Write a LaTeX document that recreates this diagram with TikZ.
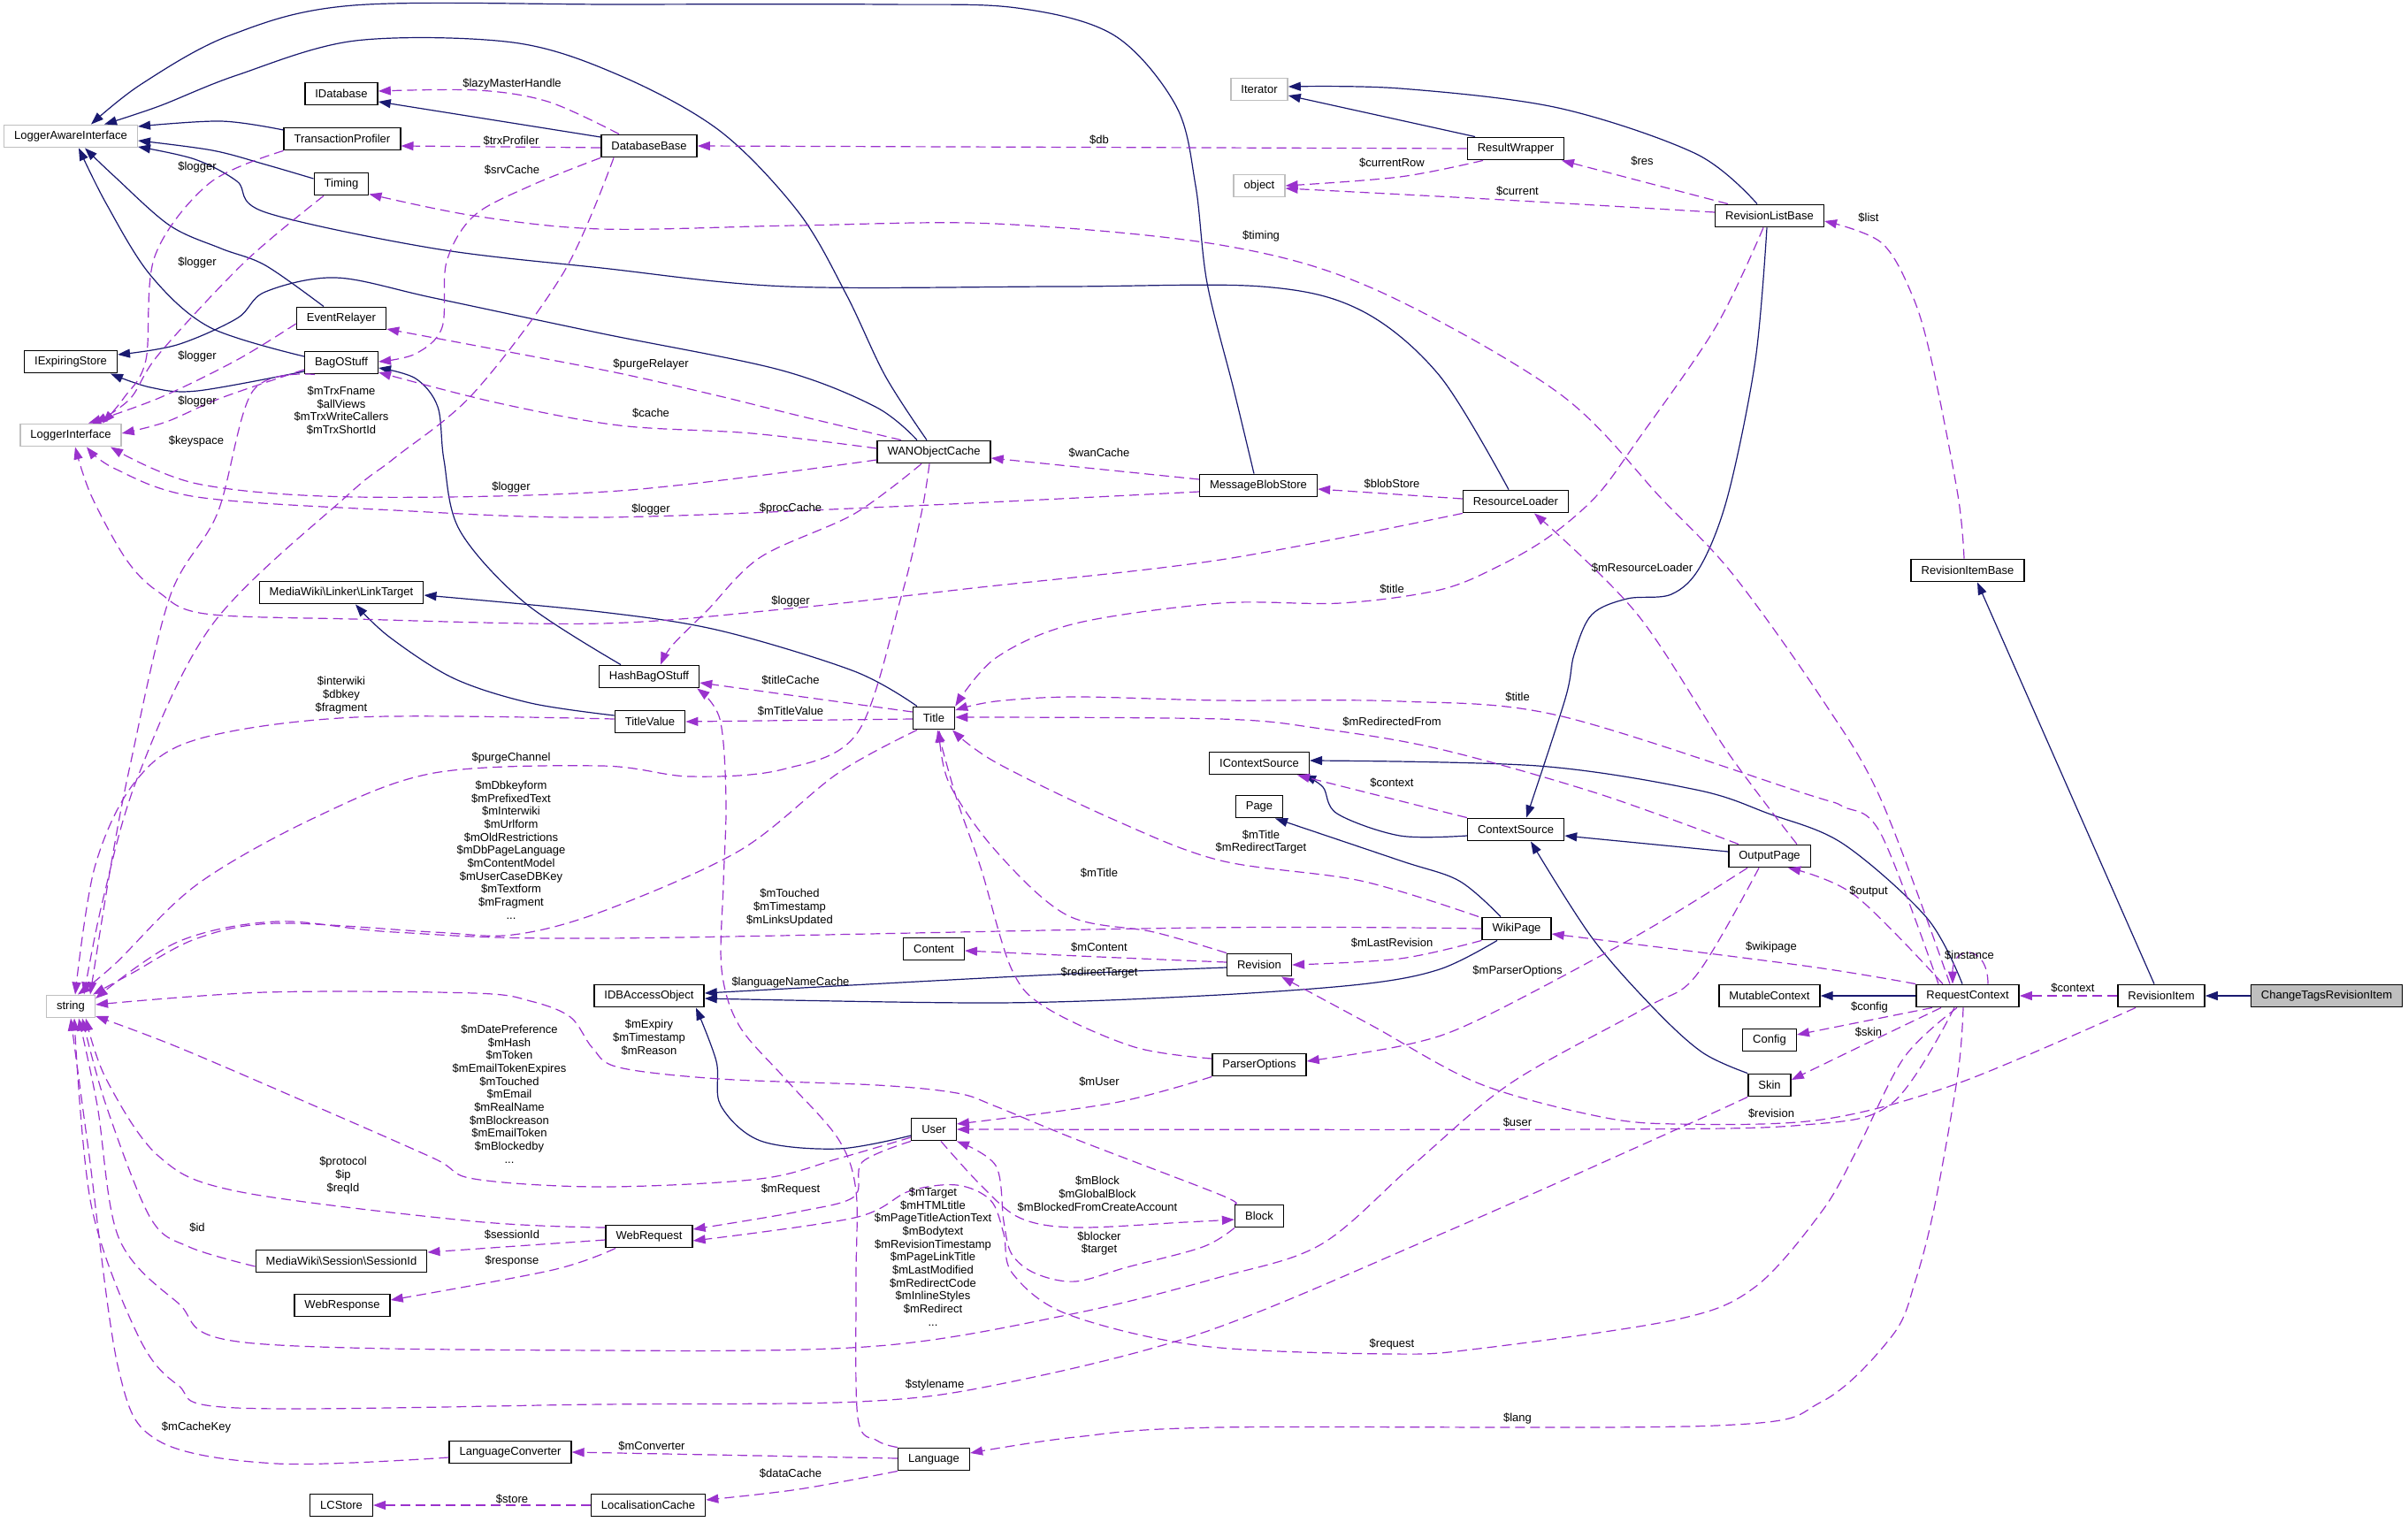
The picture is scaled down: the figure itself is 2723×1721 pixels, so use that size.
\documentclass[tikz,border=0pt]{standalone}
\usepackage{fontspec}
\setmainfont{Liberation Sans}
\usetikzlibrary{arrows.meta}
\definecolor{inhcol}{RGB}{25,25,112}
\definecolor{usecol}{RGB}{154,50,205}
\definecolor{extcol}{RGB}{191,191,191}
\begin{document}
\begin{tikzpicture}[x=1pt,y=-1pt,
 every node/.style={font=\fontsize{13}{14.7}\selectfont},
 cls/.style={draw=black, line width=1.4pt, fill=white, minimum height=25.5pt, inner xsep=11.5pt, inner ysep=0pt, anchor=center},
 ext/.style={cls, draw=extcol},
 cur/.style={cls, fill=extcol},
 inhedge/.style={draw=inhcol, line width=1.2pt, -{Triangle[length=14pt,width=10pt]}},
 usedge/.style={draw=usecol, line width=1.2pt, dash pattern=on 11pt off 6pt, -{Triangle[length=14pt,width=10pt]}},
 lbl/.style={align=center, inner sep=0pt},
 sm/.style={smooth, tension=0.55}
]
\useasboundingbox (0,0) rectangle (2723,1721);
\fill[white] (0,0) rectangle (2723,1721);
% ---------------- nodes ----------------
\node[ext] (LAI) at (80,154) {LoggerAwareInterface};
\node[cls] (IDatabase) at (386,106) {IDatabase};
\node[cls] (TP) at (387,157) {TransactionProfiler};
\node[cls] (Timing) at (386,208) {Timing};
\node[cls] (DB) at (734,165) {DatabaseBase};
\node[ext] (Iterator) at (1424,101) {Iterator};
\node[cls] (RW) at (1714,168) {ResultWrapper};
\node[ext] (object) at (1424,210) {object};
\node[cls] (RLB) at (2001,244) {RevisionListBase};
\node[cls] (ER) at (386,360) {EventRelayer};
\node[cls] (IES) at (80,409) {IExpiringStore};
\node[cls] (BOS) at (386,410) {BagOStuff};
\node[ext] (LI) at (80,492) {LoggerInterface};
\node[cls] (WAN) at (1056,511) {WANObjectCache};
\node[cls] (MBS) at (1423,549) {MessageBlobStore};
\node[cls] (RL) at (1714,567) {ResourceLoader};
\node[cls] (RIB) at (2225,645) {RevisionItemBase};
\node[cls] (LT) at (386,670) {MediaWiki\textbackslash Linker\textbackslash LinkTarget};
\node[cls] (HBOS) at (734,765) {HashBagOStuff};
\node[cls] (TV) at (735,816) {TitleValue};
\node[cls] (Title) at (1056,812) {Title};
\node[cls] (ICS) at (1424,863) {IContextSource};
\node[cls] (Page) at (1424,912) {Page};
\node[cls] (CS) at (1714,938) {ContextSource};
\node[cls] (OP) at (2001,968) {OutputPage};
\node[cls] (WP) at (1715,1050) {WikiPage};
\node[ext] (string) at (80,1138) {string};
\node[cls] (Content) at (1056,1073) {Content};
\node[cls] (Revision) at (1424,1091) {Revision};
\node[cls] (IDBAO) at (734,1126) {IDBAccessObject};
\node[cls] (MC) at (2001,1126) {MutableContext};
\node[cls] (RC) at (2225,1126) {RequestContext};
\node[cls] (RI) at (2444,1126) {RevisionItem};
\node[cur] (CTRI) at (2631,1126) {ChangeTagsRevisionItem};
\node[cls] (Config) at (2001,1176) {Config};
\node[cls] (PO) at (1424,1204) {ParserOptions};
\node[cls] (Skin) at (2001,1227) {Skin};
\node[cls] (User) at (1056,1277) {User};
\node[cls] (Block) at (1424,1375) {Block};
\node[cls] (WR) at (734,1398) {WebRequest};
\node[cls] (SID) at (386,1426) {MediaWiki\textbackslash Session\textbackslash SessionId};
\node[cls] (WResp) at (387,1476) {WebResponse};
\node[cls] (LC) at (577,1642) {LanguageConverter};
\node[cls] (Language) at (1056,1650) {Language};
\node[cls] (LCStore) at (386,1702) {LCStore};
\node[cls] (LocC) at (733,1702) {LocalisationCache};
% ---------------- inheritance ----------------
\draw[inhedge] plot[sm] coordinates {([shift={(-5,0)}]MBS.north) (1395,440) (1365,320) (1352,210) (1330,120) (1260,40) (1150,9) (1000,5) (700,5) (400,6) (260,40) (160,95) ([shift={(23,0)}]LAI.north)};
\draw[inhedge] plot[sm] coordinates {([shift={(-8,0)}]WAN.north) (1001,425) (957,333) (903,240) (814,148) (700,85) (580,48) (402,46) (268,85) (180,120) ([shift={(38,0)}]LAI.north)};
\draw[inhedge] plot[sm] coordinates {([shift={(0,-10)}]TP.west) (250,137) ([shift={(0,-11)}]LAI.east)};
\draw[inhedge] plot[sm] coordinates {([shift={(0,-6)}]Timing.west) (300,186) (240,170) ([shift={(0,5)}]LAI.east)};
\draw[inhedge] plot[sm] coordinates {([shift={(-8,0)}]RL.north) (1628,425) (1539,351) (1427,324) (1200,324) (890,324) (680,303) (491,281) (300,240) (268,205) (220,180) ([shift={(0,12)}]LAI.east)};
\draw[inhedge] plot[sm] coordinates {([shift={(-20,0)}]ER.north) (300,300) (250,281) (192,255) (130,200) ([shift={(16,0)}]LAI.south)};
\draw[inhedge] plot[sm] coordinates {([shift={(0,-7)}]BOS.west) (237,370) (170,311) (120,230) ([shift={(9,0)}]LAI.south)};
\draw[inhedge] plot[sm] coordinates {([shift={(0,10)}]BOS.west) (223,442) (170,438) ([shift={(45,0)}]IES.south)};
\draw[inhedge] plot[sm] coordinates {([shift={(-19,0)}]WAN.north) (990,460) (881,418) (680,377) (491,337) (380,314) (300,330) (268,360) (200,390) ([shift={(0,-8)}]IES.east)};
\draw[inhedge] ([shift={(0,-10)}]DB.west) -- ([shift={(0,9)}]IDatabase.east);
\draw[inhedge] plot[sm] coordinates {([shift={(-32,0)}]HBOS.north) (594,682) (520,600) (502,520) (495,460) (470,428) ([shift={(0,6)}]BOS.east)};
\draw[inhedge] ([shift={(-46,0)}]RW.north) -- ([shift={(0,7)}]Iterator.east);
\draw[inhedge] plot[sm] coordinates {([shift={(-14,0)}]RLB.north) (1918,174) (1762,122) (1583,100) ([shift={(0,-3)}]Iterator.east)};
\draw[inhedge] plot[sm] coordinates {([shift={(-3,0)}]RLB.south) (1985,407) (1954,560) (1923,640) (1890,672) (1840,677) (1800,695) (1780,740) (1770,790) ([shift={(12,0)}]CS.north)};
\draw[inhedge] plot[sm] coordinates {([shift={(0,-7)}]TV.west) (600,795) (513,767) (440,720) ([shift={(16,0)}]LT.south)};
\draw[inhedge] plot[sm] coordinates {([shift={(-19,0)}]Title.north) (966,759) (814,713) (680,692) ([shift={(0,3)}]LT.east)};
\draw[inhedge] plot[sm] coordinates {([shift={(0,7)}]CS.west) (1583,945) (1512,920) (1496,890) ([shift={(50,0)}]ICS.south)};
\draw[inhedge] ([shift={(0,-5)}]OP.west) -- ([shift={(0,7)}]CS.east);
\draw[inhedge] plot[sm] coordinates {([shift={(-18,0)}]WP.north) (1650,996) (1583,973) ([shift={(18,0)}]Page.south)};
\draw[inhedge] plot[sm] coordinates {([shift={(-22,0)}]WP.south) (1628,1096) (1539,1113) (1360,1126) (1126,1134) ([shift={(0,3)}]IDBAO.east)};
\draw[inhedge] plot[sm] coordinates {([shift={(0,3)}]Revision.west) (1171,1103) ([shift={(0,-3)}]IDBAO.east)};
\draw[inhedge] plot[sm] coordinates {([shift={(0,7)}]User.west) (948,1299) (860,1290) (815,1250) (810,1200) ([shift={(53,0)}]IDBAO.south)};
\draw[inhedge] plot[sm] coordinates {([shift={(-6,0)}]RC.north) (2179,1038) (2084,954) (2000,920) (1918,893) (1739,866) ([shift={(0,-3)}]ICS.east)};
\draw[inhedge] (RC.west) -- (MC.east);
\draw[inhedge] plot[sm] coordinates {(Skin.north west) (1925,1190) (1870,1140) (1800,1060) ([shift={(17,0)}]CS.south)};
\draw[inhedge] ([shift={(-8,0)}]RI.north) -- ([shift={(11,0)}]RIB.south);
\draw[inhedge] (CTRI.west) -- (RI.east);
% ---------------- usage ----------------
\draw[usedge] plot[sm] coordinates {([shift={(-34,0)}]DB.north) (620,115) (540,102) ([shift={(0,-3)}]IDatabase.east)};
\draw[usedge] ([shift={(0,2)}]DB.west) -- ([shift={(0,8)}]TP.east);
\draw[usedge] plot[sm] coordinates {(DB.south west) (600,210) (536,244) (505,296) (500,370) (470,400) ([shift={(0,-1)}]BOS.east)};
\draw[usedge] plot[sm] coordinates {([shift={(-40,0)}]DB.south) (638,307) (536,444) (446,518) (393,560) (241,705) (156,878) (116,1019) ([shift={(15,0)}]string.north)};
\draw[usedge] plot[sm] coordinates {(TP.south west) (237,207) (175,290) (165,407) (140,450) ([shift={(36,0)}]LI.north)};
\draw[usedge] plot[sm] coordinates {([shift={(-20,0)}]Timing.south) (277,296) (180,400) (147,451) ([shift={(27,0)}]LI.north)};
\draw[usedge] plot[sm] coordinates {([shift={(0,6)}]ER.west) (268,407) (180,450) ([shift={(20,0)}]LI.north)};
\draw[usedge] plot[sm] coordinates {([shift={(0,8)}]BOS.west) (250,450) (188,477) ([shift={(0,-2)}]LI.east)};
\draw[usedge] plot[sm] coordinates {([shift={(-30,0)}]BOS.south) (286,442) (246,580) (192,675) (147,866) (125,981) ([shift={(22,0)}]string.north)};
\draw[usedge] plot[sm] coordinates {([shift={(0,9)}]WAN.west) (700,555) (402,562) (223,547) ([shift={(45,0)}]LI.south)};
\draw[usedge] plot[sm] coordinates {([shift={(0,7)}]MBS.west) (1030,572) (680,585) (446,577) (223,562) (130,530) ([shift={(18,0)}]LI.south)};
\draw[usedge] plot[sm] coordinates {(RL.south west) (1380,633) (1100,665) (894,688) (680,705) (400,700) (232,694) (180,670) (143,633) (103,560) ([shift={(5,0)}]LI.south)};
\draw[usedge] plot[sm] coordinates {([shift={(-37,0)}]WAN.north) (903,470) (814,448) (700,422) (560,395) ([shift={(0,12)}]ER.east)};
\draw[usedge] plot[sm] coordinates {([shift={(0,-4)}]WAN.west) (850,490) (700,481) (560,455) ([shift={(0,11)}]BOS.east)};
\draw[usedge] plot[sm] coordinates {([shift={(-14,0)}]WAN.south) (966,581) (860,630) (800,690) (760,730) ([shift={(13,0)}]HBOS.north)};
\draw[usedge] plot[sm] coordinates {([shift={(-5,0)}]WAN.south) (1042,580) (1019,675) (970,828) (885,870) (780,878) (680,866) (491,874) (357,924) (223,1000) (130,1090) ([shift={(8,0)}]string.north)};
\draw[usedge] ([shift={(0,-7)}]MBS.west) -- ([shift={(0,7)}]WAN.east);
\draw[usedge] ([shift={(0,-3)}]RL.west) -- ([shift={(0,4)}]MBS.east);
\draw[usedge] (RW.west) -- (DB.east);
\draw[usedge] plot[sm] coordinates {([shift={(-37,0)}]RW.south) (1583,200) (object.east)};
\draw[usedge] ([shift={(-47,0)}]RLB.north) -- ([shift={(52,0)}]RW.south);
\draw[usedge] plot[sm] coordinates {([shift={(0,-4)}]RLB.west) (1700,226) ([shift={(0,3)}]object.east)};
\draw[usedge] plot[sm] coordinates {([shift={(-7,0)}]RLB.south) (1940,370) (1851,499) (1806,560) (1753,606) (1695,640) (1628,667) (1516,682) (1380,682) (1216,705) (1126,744) (Title.north east)};
\draw[usedge] plot[sm] coordinates {([shift={(-20,0)}]RC.north) (2127,904) (2060,790) (1960,650) (1880,565) (1762,444) (1552,326) (1380,277) (1126,253) (900,255) (680,259) (536,244) ([shift={(0,-2)}]Timing.south east)};
\draw[usedge] plot[sm] coordinates {([shift={(-4,0)}]RIB.north) (2214,560) (2184,407) (2162,333) (2127,274) ([shift={(0,6)}]RLB.east)};
\draw[usedge] plot[sm] coordinates {([shift={(0,-3)}]TV.west) (402,811) (223,836) (152,885) (107,981) ([shift={(5,0)}]string.north)};
\draw[usedge] ([shift={(0,-7)}]Title.west) -- ([shift={(0,7)}]HBOS.east);
\draw[usedge] ([shift={(0,1)}]Title.west) -- (TV.east);
\draw[usedge] plot[sm] coordinates {([shift={(-19,0)}]Title.south) (948,874) (836,962) (680,1031) (580,1057) (491,1054) (313,1044) (223,1061) (150,1100) ([shift={(-3,0)}]string.north east)};
\draw[usedge] plot[sm] coordinates {([shift={(-33,0)}]RC.north) (2127,943) (2084,912) (2040,897) (1762,809) (1583,793) (1380,792) (1216,788) (1126,793) ([shift={(0,-9)}]Title.east)};
\draw[usedge] plot[sm] coordinates {([shift={(-35,0)}]OP.north) (1806,897) (1628,847) (1494,824) (1380,813) ([shift={(0,-1)}]Title.east)};
\draw[usedge] plot[sm] coordinates {([shift={(-43,0)}]WP.north) (1539,996) (1380,973) (1260,927) (1126,862) ([shift={(21,0)}]Title.south)};
\draw[usedge] plot[sm] coordinates {(Revision.north west) (1305,1054) (1207,1035) (1126,962) (1073,885) ([shift={(6,0)}]Title.south)};
\draw[usedge] plot[sm] coordinates {([shift={(0,-7)}]PO.west) (1283,1184) (1184,1140) (1144,1096) (1109,981) (1082,904) ([shift={(4,0)}]Title.south)};
\draw[usedge] plot[sm] coordinates {([shift={(31,0)}]OP.north) (1954,851) (1851,694) ([shift={(21,0)}]RL.south)};
\draw[usedge] (CS.north west) -- ([shift={(43,0)}]ICS.south);
\draw[usedge] plot[sm] coordinates {(WP.west) (1360,1049) (680,1061) (446,1054) (313,1042) (201,1065) ([shift={(0,-9)}]string.east)};
\draw[usedge] plot[sm] coordinates {([shift={(0,-3)}]Revision.west) (1243,1082) ([shift={(0,2)}]Content.east)};
\draw[usedge] plot[sm] coordinates {(WP.south west) (1583,1084) (Revision.east)};
\draw[usedge] plot[sm] coordinates {(RC.north west) (2040,1092) ([shift={(0,6)}]WP.east)};
\draw[usedge] plot[sm] coordinates {([shift={(-28,0)}]RC.north) (2097,1012) ([shift={(21,0)}]OP.south)};
\draw[usedge] plot[sm] coordinates {([shift={(-25,0)}]OP.south) (1851,1058) (1672,1153) (1592,1181) ([shift={(0,-4)}]PO.east)};
\draw[usedge] ([shift={(23,0)}]RC.north) .. controls +(0,-45) and +(0,-45) .. ([shift={(-17,0)}]RC.north);
\draw[usedge] (RI.west) -- (RC.east);
\draw[usedge] ([shift={(-40,0)}]RC.south) -- ([shift={(0,-6)}]Config.east);
\draw[usedge] plot[sm] coordinates {([shift={(-30,0)}]RC.south) (2100,1185) ([shift={(0,-6)}]Skin.east)};
\draw[usedge] plot[sm] coordinates {([shift={(-29,0)}]RI.south) (2214,1225) (2060,1266) (1896,1271) (1806,1262) (1672,1225) (1552,1160) ([shift={(25,0)}]Revision.south)};
\draw[usedge] plot[sm] coordinates {([shift={(-15,0)}]RC.south) (2140,1247) (2040,1272) (1800,1277) (User.east)};
\draw[usedge] plot[sm] coordinates {(PO.south west) (1260,1247) ([shift={(0,-6)}]User.east)};
\draw[usedge] plot[sm] coordinates {([shift={(-12,0)}]OP.south) (1918,1103) (1860,1140) (1708,1225) (1597,1318) (1494,1407) (1380,1444) (1216,1485) (992,1522) (680,1527) (277,1518) (201,1473) (134,1399) (110,1250) ([shift={(9,0)}]string.south)};
\draw[usedge] plot[sm] coordinates {(Skin.south west) (1896,1277) (1628,1396) (1360,1507) (1126,1566) (970,1585) (680,1588) (268,1592) (201,1566) (156,1510) (103,1362) ([shift={(4,0)}]string.south)};
\draw[usedge] plot[sm] coordinates {([shift={(-12,0)}]RC.south) (2153,1196) (2100,1300) (2060,1370) (1985,1455) (1896,1492) (1672,1525) (1574,1531) (1360,1522) (1207,1486) (1145,1440) (1135,1395) (1120,1357) (1082,1340) (1028,1347) (966,1377) ([shift={(0,5)}]WR.east)};
\draw[usedge] plot[sm] coordinates {(Block.south west) (1360,1410) (1274,1433) (1216,1449) (1171,1440) (1144,1418) (1135,1381) (1126,1318) (User.south east)};
\draw[usedge] plot[sm] coordinates {([shift={(8,0)}]User.south) (1109,1340) (1153,1377) (1216,1388) (1340,1382) ([shift={(0,4)}]Block.west)};
\draw[usedge] plot[sm] coordinates {(User.south west) (975,1314) (966,1353) (903,1370) ([shift={(0,-8)}]WR.east)};
\draw[usedge] plot[sm] coordinates {([shift={(0,9)}]User.west) (948,1310) (859,1333) (680,1342) (536,1333) (491,1310) (357,1251) (201,1184) ([shift={(0,11)}]string.east)};
\draw[usedge] plot[sm] coordinates {(Block.north west) (1380,1351) (1216,1288) (1126,1251) (1082,1236) (992,1227) (814,1220) (700,1207) (670,1185) (645,1150) (600,1132) (536,1123) (300,1122) ([shift={(0,-2)}]string.east)};
\draw[usedge] plot[sm] coordinates {([shift={(0,-10)}]WR.west) (536,1381) (268,1347) (179,1307) (120,1220) ([shift={(17,0)}]string.south)};
\draw[usedge] ([shift={(0,4)}]WR.west) -- ([shift={(0,-10)}]SID.east);
\draw[usedge] plot[sm] coordinates {([shift={(-38,0)}]WR.south) (625,1436) ([shift={(0,-6)}]WResp.east)};
\draw[usedge] plot[sm] coordinates {([shift={(0,6)}]SID.west) (214,1410) (170,1377) (120,1250) ([shift={(13,0)}]string.south)};
\draw[usedge] plot[sm] coordinates {([shift={(0,6)}]LC.west) (313,1655) (179,1629) (134,1548) (100,1300) (string.south)};
\draw[usedge] ([shift={(0,-1)}]Language.west) -- (LC.east);
\draw[usedge] plot[sm] coordinates {(Language.south west) (903,1684) ([shift={(0,-6)}]LocC.east)};
\draw[usedge] (LocC.west) -- (LCStore.east);
\draw[usedge] plot[sm] coordinates {([shift={(-5,0)}]RC.south) (2214,1214) (2188,1362) (2166,1448) (2140,1510) (2060,1585) (1940,1612) (1380,1614) (1216,1625) ([shift={(0,-7)}]Language.east)};
\draw[usedge] plot[sm] coordinates {(Language.north west) (992,1629) (970,1603) (968,1450) (968,1347) (948,1288) (890,1222) (836,1160) (816,1096) (818,1000) (821,904) (814,813) ([shift={(-3,0)}]HBOS.south east)};
% ---------------- labels ----------------
\node[lbl] (l01) at (579,95) {\$lazyMasterHandle};
\node[lbl] (l02) at (578,159) {\$trxProfiler};
\node[lbl] (l03) at (579,192) {\$srvCache};
\node[lbl] (l04) at (223,189) {\$logger};
\node[lbl] (l05) at (223,297) {\$logger};
\node[lbl] (l06) at (223,403) {\$logger};
\node[lbl] (l07) at (223,454) {\$logger};
\node[lbl] (l08) at (386,464) {\$mTrxFname\\\$allViews\\\$mTrxWriteCallers\\\$mTrxShortId};
\node[lbl] (l09) at (222,499) {\$keyspace};
\node[lbl] (l10) at (578,551) {\$logger};
\node[lbl] (l11) at (736,576) {\$logger};
\node[lbl] (l12) at (894,575) {\$procCache};
\node[lbl] (l13) at (894,680) {\$logger};
\node[lbl] (l14) at (1243,158) {\$db};
\node[lbl] (l15) at (736,412) {\$purgeRelayer};
\node[lbl] (l16) at (736,467) {\$cache};
\node[lbl] (l17) at (1243,512) {\$wanCache};
\node[lbl] (l18) at (1574,184) {\$currentRow};
\node[lbl] (l19) at (1857,182) {\$res};
\node[lbl] (l20) at (1716,216) {\$current};
\node[lbl] (l21) at (1426,267) {\$timing};
\node[lbl] (l22) at (1574,547) {\$blobStore};
\node[lbl] (l23) at (2113,246) {\$list};
\node[lbl] (l24) at (1574,666) {\$title};
\node[lbl] (l25) at (1857,642) {\$mResourceLoader};
\node[lbl] (l26) at (1716,788) {\$title};
\node[lbl] (l27) at (1574,816) {\$mRedirectedFrom};
\node[lbl] (l28) at (1574,885) {\$context};
\node[lbl] (l29) at (1426,952) {\$mTitle\\\$mRedirectTarget};
\node[lbl] (l30) at (1243,987) {\$mTitle};
\node[lbl] (l31) at (894,769) {\$titleCache};
\node[lbl] (l32) at (894,804) {\$mTitleValue};
\node[lbl] (l33) at (386,786) {\$interwiki\\\$dbkey\\\$fragment};
\node[lbl] (l34) at (578,857) {\$purgeChannel};
\node[lbl] (l35) at (578,961) {\$mDbkeyform\\\$mPrefixedText\\\$mInterwiki\\\$mUrlform\\\$mOldRestrictions\\\$mDbPageLanguage\\\$mContentModel\\\$mUserCaseDBKey\\\$mTextform\\\$mFragment\\...};
\node[lbl] (l36) at (893,1026) {\$mTouched\\\$mTimestamp\\\$mLinksUpdated};
\node[lbl] (l37) at (1243,1071) {\$mContent};
\node[lbl] (l38) at (1574,1066) {\$mLastRevision};
\node[lbl] (l39) at (2003,1071) {\$wikipage};
\node[lbl] (l40) at (2113,1008) {\$output};
\node[lbl] (l41) at (1716,1098) {\$mParserOptions};
\node[lbl] (l42) at (2227,1080) {\$instance};
\node[lbl] (l43) at (2344,1117) {\$context};
\node[lbl] (l44) at (2114,1139) {\$config};
\node[lbl] (l45) at (2113,1167) {\$skin};
\node[lbl] (l46) at (1243,1100) {\$redirectTarget};
\node[lbl] (l47) at (894,1111) {\$languageNameCache};
\node[lbl] (l48) at (734,1173) {\$mExpiry\\\$mTimestamp\\\$mReason};
\node[lbl] (l49) at (1243,1223) {\$mUser};
\node[lbl] (l50) at (1716,1269) {\$user};
\node[lbl] (l51) at (2003,1259) {\$revision};
\node[lbl] (l52) at (576,1237) {\$mDatePreference\\\$mHash\\\$mToken\\\$mEmailTokenExpires\\\$mTouched\\\$mEmail\\\$mRealName\\\$mBlockreason\\\$mEmailToken\\\$mBlockedby\\...};
\node[lbl] (l53) at (388,1329) {\$protocol\\\$ip\\\$reqId};
\node[lbl] (l54) at (894,1345) {\$mRequest};
\node[lbl] (l55) at (1055,1421) {\$mTarget\\\$mHTMLtitle\\\$mPageTitleActionText\\\$mBodytext\\\$mRevisionTimestamp\\\$mPageLinkTitle\\\$mLastModified\\\$mRedirectCode\\\$mInlineStyles\\\$mRedirect\\...};
\node[lbl] (l56) at (1241,1350) {\$mBlock\\\$mGlobalBlock\\\$mBlockedFromCreateAccount};
\node[lbl] (l57) at (1243,1406) {\$blocker\\\$target};
\node[lbl] (l58) at (223,1388) {\$id};
\node[lbl] (l59) at (579,1396) {\$sessionId};
\node[lbl] (l60) at (579,1426) {\$response};
\node[lbl] (l61) at (1574,1520) {\$request};
\node[lbl] (l62) at (1057,1566) {\$stylename};
\node[lbl] (l63) at (222,1614) {\$mCacheKey};
\node[lbl] (l64) at (1716,1604) {\$lang};
\node[lbl] (l65) at (737,1635) {\$mConverter};
\node[lbl] (l66) at (894,1666) {\$dataCache};
\node[lbl] (l67) at (579,1695) {\$store};
\end{tikzpicture}
\end{document}
